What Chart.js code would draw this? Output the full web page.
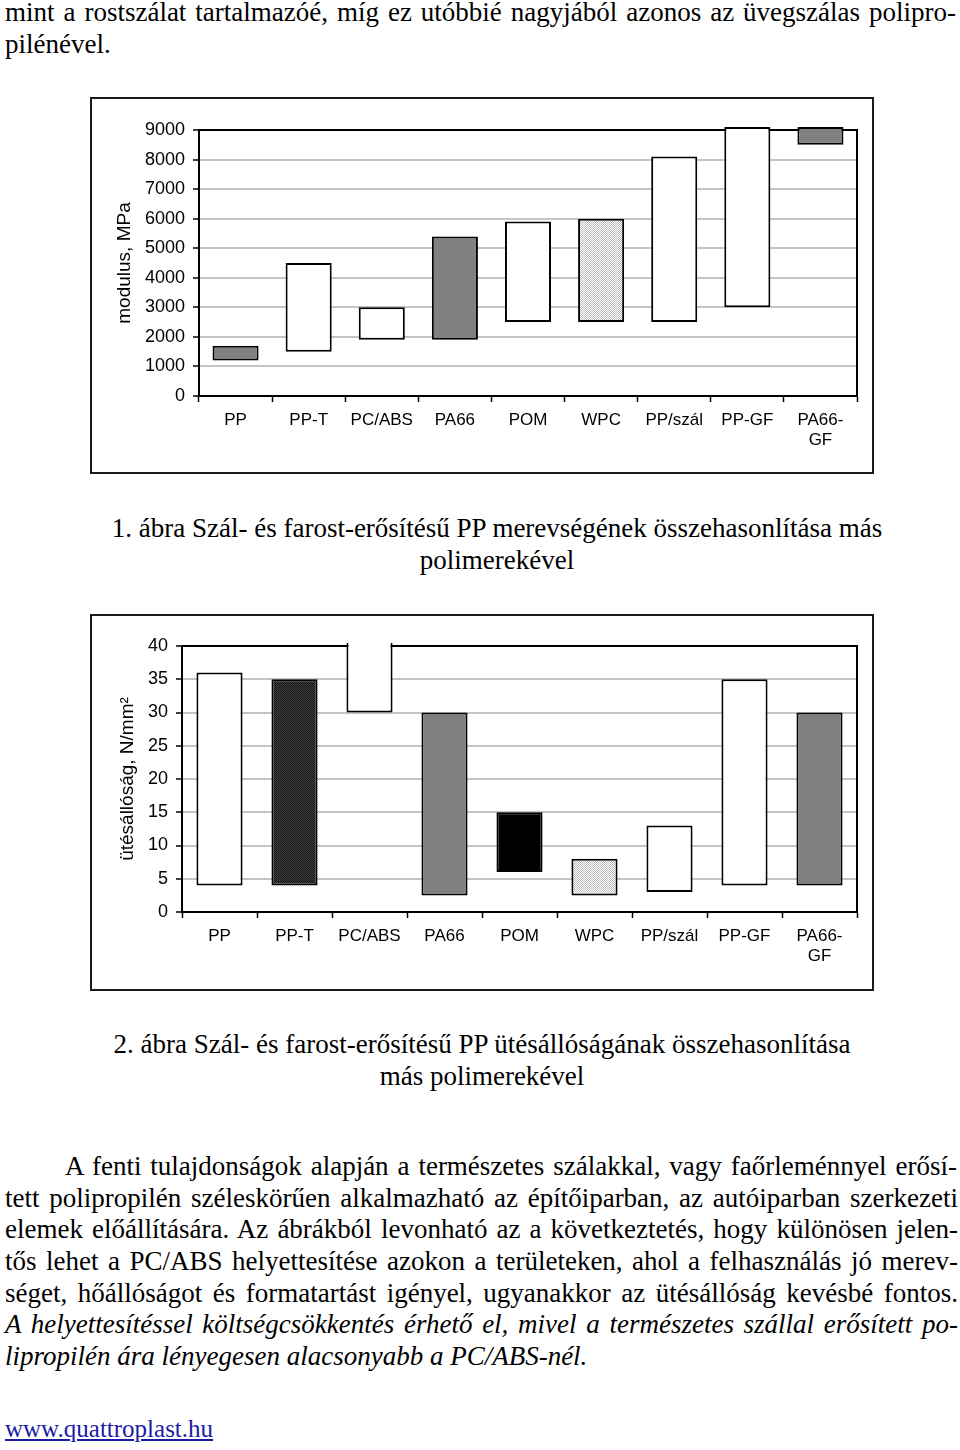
<!DOCTYPE html>
<html>
<head>
<meta charset="utf-8">
<script src="https://cdn.jsdelivr.net/npm/chart.js@4/dist/chart.umd.min.js"></script>
<style>
  body { margin: 0; background: #fff; width: 960px; height: 1450px; position: relative; overflow: hidden;
         font-family: "Liberation Serif", "Times New Roman", serif; color: #000; }
  .ln { position: absolute; font-size: 27px; line-height: 32px; white-space: nowrap; }
  .j { text-align: justify; text-align-last: justify; white-space: normal; }
  .c { left: 0; width: 994px; text-align: center; }
  .it { font-style: italic; }
  .frame { position: absolute; left: 90px; width: 780px; height: 373px; border: 2px solid #1a1a1a; }
  .frame canvas { display: block; }
  a { color: #1b1ba8; text-decoration: underline; font-size: 25px; }
</style>
</head>
<body>

<div class="ln j" style="top:-4px;left:5px;width:951px;">mint a rostszálat tartalmazóé, míg ez utóbbié nagyjából azonos az üvegszálas polipro-</div>
<div class="ln" style="top:28px;left:5px;">pilénével.</div>

<div class="frame" style="top:97px;"><canvas id="modulusChart" width="780" height="373"></canvas></div>

<div class="ln c" style="top:512px;">1. ábra Szál- és farost-erősítésű PP merevségének összehasonlítása más</div>
<div class="ln c" style="top:544px;">polimerekével</div>

<div class="frame" style="top:614px;"><canvas id="impactChart" width="780" height="373"></canvas></div>

<div class="ln c" style="top:1028px;width:964px;">2. ábra Szál- és farost-erősítésű PP ütésállóságának összehasonlítása</div>
<div class="ln c" style="top:1060px;width:964px;">más polimerekével</div>

<div class="ln j" style="top:1150px;left:65px;width:892px;">A fenti tulajdonságok alapján a természetes szálakkal, vagy faőrleménnyel erősí-</div>
<div class="ln j" style="top:1182px;left:5px;width:953px;">tett polipropilén széleskörűen alkalmazható az építőiparban, az autóiparban szerkezeti</div>
<div class="ln j" style="top:1213px;left:5px;width:953px;">elemek előállítására. Az ábrákból levonható az a következtetés, hogy különösen jelen-</div>
<div class="ln j" style="top:1245px;left:5px;width:953px;">tős lehet a PC/ABS helyettesítése azokon a területeken, ahol a felhasználás jó merev-</div>
<div class="ln j" style="top:1277px;left:5px;width:953px;">séget, hőállóságot és formatartást igényel, ugyanakkor az ütésállóság kevésbé fontos.</div>
<div class="ln j it" style="top:1308px;left:5px;width:953px;">A helyettesítéssel költségcsökkentés érhető el, mivel a természetes szállal erősített po-</div>
<div class="ln it" style="top:1340px;left:5px;">lipropilén ára lényegesen alacsonyabb a PC/ABS-nél.</div>

<div class="ln" style="top:1412px;left:5px;"><a>www.quattroplast.hu</a></div>

<script>
const categories = ['PP', 'PP-T', 'PC/ABS', 'PA66', 'POM', 'WPC', 'PP/szál', 'PP-GF', ['PA66-', 'GF']];

// 1. ábra: modulus, MPa (min - max)
const modulusLow  = [1200, 1500, 1900, 1900, 2500, 2500, 2500, 3000, 8500];
const modulusHigh = [1700, 4500, 3000, 5400, 5900, 6000, 8100, 9100, 9100];

// 2. ábra: ütésállóság, N/mm2 (min - max)
const impactLow  = [4, 4, 30, 2.5, 6, 2.5, 3, 4, 4];
const impactHigh = [36, 35, 45, 30, 15, 8, 13, 35, 30];

function makePattern(a, b) {
  const c = document.createElement('canvas');
  c.width = 2; c.height = 2;
  const g = c.getContext('2d');
  g.fillStyle = a; g.fillRect(0, 0, 2, 2);
  g.fillStyle = b; g.fillRect(0, 0, 1, 1); g.fillRect(1, 1, 1, 1);
  return g.createPattern(c, 'repeat');
}

const grayFill = '#808080';
const dotFill = makePattern('#ffffff', '#bdbdbd');
const darkFill = makePattern('#404040', '#151515');

const modulusColors = [grayFill, '#fff', '#fff', grayFill, '#fff', dotFill, '#fff', '#fff', grayFill];
const impactColors  = ['#fff', darkFill, '#fff', grayFill, '#000', dotFill, '#fff', '#fff', grayFill];

const plotFrame = {
  id: 'plotFrame',
  beforeDatasetsDraw(chart) {
    const a = chart.chartArea;
    const ctx = chart.ctx;
    ctx.save();
    ctx.strokeStyle = '#000';
    ctx.lineWidth = 2;
    ctx.beginPath();
    ctx.moveTo(a.left, a.top);
    ctx.lineTo(a.right, a.top);
    ctx.lineTo(a.right, a.bottom);
    ctx.stroke();
    ctx.restore();
  }
};

function buildChart(id, low, high, colors, opts) {
  const ctx = document.getElementById(id).getContext('2d');
  return new Chart(ctx, {
    type: 'bar',
    data: {
      labels: categories,
      datasets: [{
        data: low.map((v, i) => [v, high[i]]),
        backgroundColor: colors,
        borderColor: '#000',
        borderWidth: 2,
        borderSkipped: false,
        barPercentage: opts.barPct,
        categoryPercentage: 1,
        clip: { left: false, top: opts.clipTop, right: false, bottom: false }
      }]
    },
    options: {
      responsive: false,
      animation: false,
      layout: { padding: { left: opts.padLeft, top: opts.padTop, right: 15, bottom: 0 } },
      plugins: { legend: { display: false }, tooltip: { enabled: false } },
      scales: {
        x: {
          afterFit: s => { s.height = opts.xHeight; },
          grid: { offset: true, drawOnChartArea: false, tickLength: 6, tickColor: '#000', tickWidth: 1.5 },
          border: { color: '#000', width: 2 },
          ticks: { color: '#000', font: { family: 'Liberation Sans', size: 17 }, padding: 8,
                   maxRotation: 0, autoSkip: false }
        },
        y: {
          min: 0, max: opts.max,
          afterFit: s => { s.width = opts.yWidth; },
          grid: { color: '#c4c4c4', lineWidth: 2, tickLength: 6, tickColor: '#000', tickWidth: 1.5 },
          border: { color: '#000', width: 2 },
          ticks: { stepSize: opts.step, color: '#000', padding: 8,
                   font: { family: 'Liberation Sans', size: 18 },
                   callback: v => String(v) },
          title: { display: true, text: opts.title, color: '#000',
                   font: { family: 'Liberation Sans', size: 19 } }
        }
      }
    },
    plugins: [plotFrame]
  });
}

buildChart('modulusChart', modulusLow, modulusHigh, modulusColors, {
  max: 9000, step: 1000, title: 'modulus, MPa',
  padLeft: 17, yWidth: 90, padTop: 31, xHeight: 76, barPct: 0.63, clipTop: 10
});

buildChart('impactChart', impactLow, impactHigh, impactColors, {
  max: 40, step: 5, title: 'ütésállóság, N/mm²',
  padLeft: 20, yWidth: 70, padTop: 30, xHeight: 77, barPct: 0.615, clipTop: 3
});
</script>
</body>
</html>
